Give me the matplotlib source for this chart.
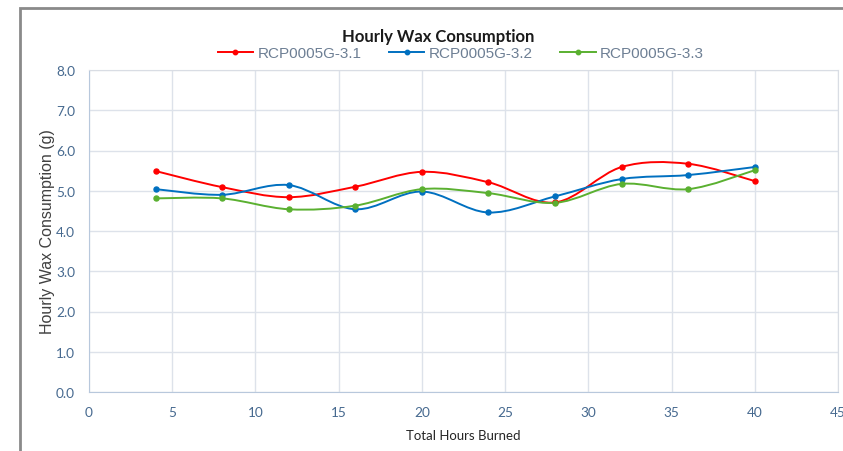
import matplotlib.pyplot as plt
import numpy as np
from matplotlib.path import Path
from matplotlib.patches import PathPatch, Rectangle
from matplotlib.lines import Line2D

hours = [4, 8, 12, 16, 20, 24, 28, 32, 36, 40]
wax_31 = [5.49, 5.09, 4.84, 5.10, 5.47, 5.21, 4.71, 5.59, 5.67, 5.24]
wax_32 = [5.04, 4.90, 5.14, 4.54, 4.98, 4.46, 4.86, 5.29, 5.39, 5.59]
wax_33 = [4.81, 4.81, 4.54, 4.63, 5.04, 4.94, 4.70, 5.17, 5.04, 5.51]
labels = ['RCP0005G-3.1', 'RCP0005G-3.2', 'RCP0005G-3.3']
colors = ['#ff0000', '#0070c0', '#5ab030']

calib = ['Lato', 'DejaVu Sans']
arial = ['Liberation Sans', 'DejaVu Sans']
tick_col = '#46698f'


def smooth_path(x, y):
    # Excel-style smoothed line: cubic Bezier through each point
    p = np.column_stack([x, y]).astype(float)
    verts = [p[0]]
    codes = [Path.MOVETO]
    n = len(p)
    for i in range(n - 1):
        p0 = p[i - 1] if i > 0 else p[i]
        p3 = p[i + 2] if i + 2 < n else p[i + 1]
        c1 = p[i] + (p[i + 1] - p0) / 6.0
        c2 = p[i + 1] - (p3 - p[i]) / 6.0
        verts += [c1, c2, p[i + 1]]
        codes += [Path.CURVE4] * 3
    return Path(verts, codes)


fig = plt.figure(figsize=(8.43, 4.52), dpi=100)
ax = fig.add_axes([89 / 843, 59 / 452, 749 / 843, 322 / 452])

# outer grey border
fig.patches.append(Rectangle((19.5 / 843, -0.1), 1.1, (452 - 9) / 452 + 0.1,
                             transform=fig.transFigure, fill=False,
                             edgecolor='#8a8a8a', lw=2))

handles = []
for ys, lab, c in zip([wax_31, wax_32, wax_33], labels, colors):
    ax.add_patch(PathPatch(smooth_path(hours, ys), fill=False, edgecolor=c, lw=1.4, zorder=3))
    ax.plot(hours, ys, 'o', color=c, ms=3.6, zorder=4)
    handles.append(Line2D([], [], color=c, lw=1.4, marker='o', ms=3.2))

ax.set_xlim(0, 45)
ax.set_ylim(0, 8)
ax.set_xticks(range(0, 46, 5))
ax.set_yticks(np.arange(0, 8.1, 1))
ax.set_yticklabels(['%.1f' % v for v in np.arange(0, 8.1, 1)])
ax.grid(True, color='#dde2ea', lw=1)
ax.set_axisbelow(True)
for s in ['top', 'right']:
    ax.spines[s].set_color('#d9dde4')
for s in ['left', 'bottom']:
    ax.spines[s].set_color('#b8c8dc')
ax.tick_params(length=0, pad=10, labelcolor=tick_col, labelsize=9.8)
ax.tick_params(axis='x', pad=10)
for t in ax.get_xticklabels() + ax.get_yticklabels():
    t.set_family(calib)

ax.set_xlabel('Total Hours Burned', family=calib, fontsize=9.5, color='#262626', labelpad=8)
ax.set_ylabel('Hourly Wax Consumption (g)', family=arial, fontsize=11.5, color='#404040', labelpad=1)

fig.text(438 / 843, 1 - 37 / 452, 'Hourly Wax Consumption', ha='center', va='center',
         family=calib, weight='bold', fontsize=12, color='#1a1a1a')
fig.legend(handles, labels, loc='center', bbox_to_anchor=(461 / 843, 1 - 54 / 452), ncol=3,
           frameon=False, prop={'family': arial, 'size': 11}, labelcolor='#6d7f94',
           handlelength=2.3, handletextpad=0.3, columnspacing=1.8)

fig.savefig('out.png', dpi=100)
